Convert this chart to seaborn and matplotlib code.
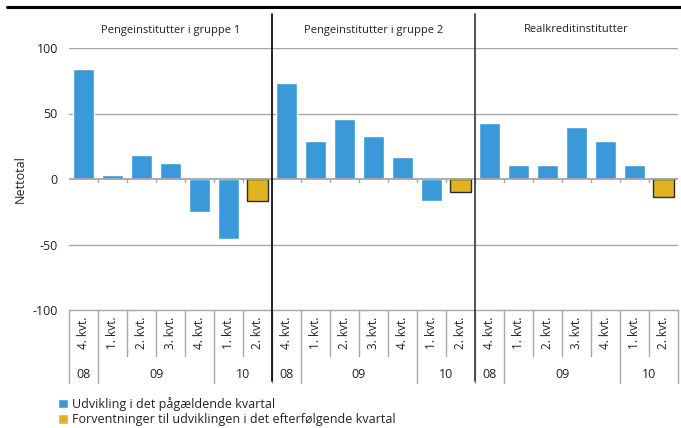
import pandas as pd
import matplotlib.pyplot as plt
import seaborn as sns
from matplotlib.patches import Patch
from matplotlib.transforms import blended_transform_factory
from matplotlib.lines import Line2D

groups = ["Pengeinstitutter i gruppe 1", "Pengeinstitutter i gruppe 2", "Realkreditinstitutter"]
quarters = ["4. kvt.", "1. kvt.", "2. kvt.", "3. kvt.", "4. kvt.", "1. kvt.", "2. kvt."]
years = ["08", "09", "10"]
year_spans = [1, 4, 2]
g1 = [84, 3, 18, 12, -25, -46, -17]
g2 = [73, 29, 46, 33, 17, -17, -10]
g3 = [43, 11, 11, 40, 29, 11, -14]
kinds = ["Udvikling i det pågældende kvartal",
         "Forventninger til udviklingen i det efterfølgende kvartal"]

BLUE = "#3A9AD9"
YELLOW = "#E1B320"
GRID = "#a6a6a6"
TXT = "#222222"

rows = []
pos = 0
for gname, vals in zip(groups, [g1, g2, g3]):
    for i, v in enumerate(vals):
        kind = kinds[1] if i == len(vals) - 1 else kinds[0]
        rows.append({"pos": pos, "group": gname, "quarter": quarters[i], "value": v, "kind": kind})
        pos += 1
df = pd.DataFrame(rows)
n = len(df)

sns.set_style("white")
plt.rcParams["font.family"] = ["Open Sans", "DejaVu Sans"]

W, H = 681, 428
fig = plt.figure(figsize=(W / 100, H / 100), dpi=100)
ax = fig.add_axes([69 / W, 1 - 310 / H, 609 / W, 262 / H])

sns.barplot(data=df, x="pos", y="value", hue="kind", hue_order=kinds, dodge=False, width=0.7,
            saturation=1, palette={kinds[0]: BLUE, kinds[1]: YELLOW}, legend=False, ax=ax)
# outline the expectation bars
for p in ax.containers[1]:
    p.set_edgecolor("#2b2b2b")
    p.set_linewidth(1.0)

ax.set_xlim(-0.5, n - 0.5)
ax.set_ylim(-100, 100)
ax.set_yticks([-100, -50, 0, 50, 100])
ax.set_yticklabels(["-100", "-50", "0", "50", "100"])
ax.tick_params(axis="y", length=0, pad=8, labelsize=9, labelcolor=TXT)
ax.set_xticks([])
ax.set_xlabel("")
ax.set_ylabel("Nettotal", fontsize=9, color=TXT)
ax.yaxis.set_label_coords(-0.07, 0.5)
for s in ["top", "right", "left"]:
    ax.spines[s].set_visible(False)
ax.spines["bottom"].set_color(GRID)
ax.spines["bottom"].set_linewidth(1)
for y in [100, 50, -50]:
    ax.axhline(y, color=GRID, lw=1, zorder=0)
ax.axhline(0, color=GRID, lw=1.3, zorder=3)

# small ticks on zero line
for b in range(1, n):
    ax.plot([b - 0.5, b - 0.5], [0, -2.5], color=GRID, lw=1, zorder=3)

trans = blended_transform_factory(ax.transData, fig.transFigure)

def fy(px):
    return 1 - px / H

# category box under the axis
nq = len(quarters)
year_bounds = set()
for gi in range(len(groups)):
    start = gi * nq
    acc = 0
    for span in year_spans:
        year_bounds.add(start + acc)
        acc += span
year_bounds.add(n)
for b in range(n + 1):
    bottom = 383 if b in year_bounds else 356
    fig.add_artist(Line2D([b - 0.5, b - 0.5], [fy(310), fy(bottom)], transform=trans,
                          color=GRID, lw=1))

for i, q in enumerate(df["quarter"]):
    fig.text(i, fy(333), q, transform=trans, rotation=90, ha="center", va="center",
             fontsize=8.5, color=TXT)

for gi in range(len(groups)):
    start = gi * nq
    acc = 0
    for yname, span in zip(years, year_spans):
        c = start + acc + (span - 1) / 2
        fig.text(c, fy(374), yname, transform=trans, ha="center", va="center",
                 fontsize=9, color=TXT)
        acc += span

# group titles and separators
for gi, gname in enumerate(groups):
    fig.text(gi * nq + (nq - 1) / 2, fy(30), gname, transform=trans, ha="center",
             va="center", fontsize=8, color=TXT)
for gi in range(1, len(groups)):
    fig.add_artist(Line2D([gi * nq - 0.5] * 2, [fy(14), fy(381)], transform=trans,
                          color="#111111" if gi == 1 else "#444444", lw=1.3))

# top rule
fig.add_artist(Line2D([7 / W, 1], [fy(7), fy(7)], color="black", lw=2.2))

handles = [Patch(facecolor=BLUE), Patch(facecolor=YELLOW)]
fig.legend(handles, kinds, loc="upper left", bbox_to_anchor=(53 / W, fy(392)),
           frameon=False, handlelength=0.8, handleheight=0.8, handletextpad=0.3,
           labelspacing=0.2, fontsize=9, labelcolor=TXT, borderaxespad=0)

fig.savefig("out.png", dpi=100)
